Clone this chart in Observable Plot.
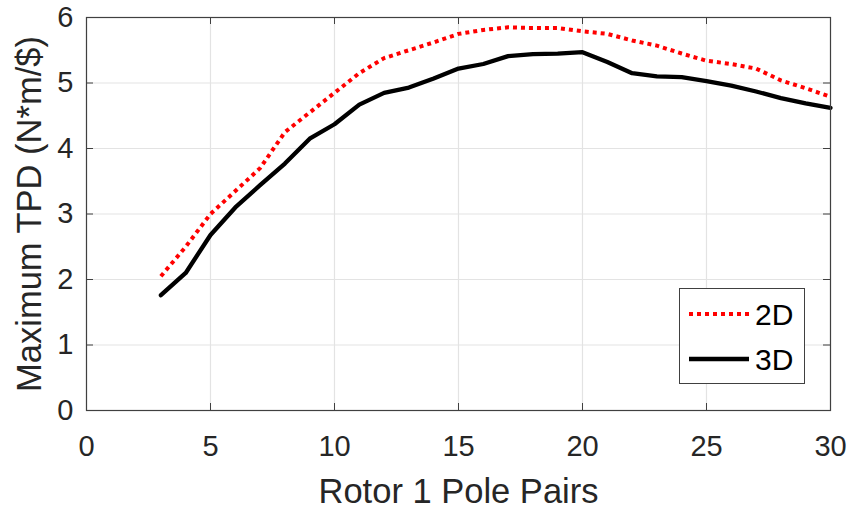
<!DOCTYPE html>
<html>
<head>
<meta charset="utf-8">
<script src="https://cdn.jsdelivr.net/npm/d3@7"></script>
<script src="https://cdn.jsdelivr.net/npm/@observablehq/plot@0.6"></script>
<style>
  html, body { margin: 0; padding: 0; background: #fff; }
  #wrap { position: relative; width: 851px; height: 514px; font-family: "Liberation Sans", Arial, Helvetica, sans-serif; }
  #legend { position: absolute; left: 679px; top: 288px; width: 124px; height: 94px; border: 1px solid #404040; background: #fff; box-sizing: content-box; }
  #legend svg { position: absolute; left: 0; top: 0; }
</style>
</head>
<body>
<div id="wrap"></div>
<script>
const polePairs = [3,4,5,6,7,8,9,10,11,12,13,14,15,16,17,18,19,20,21,22,23,24,25,26,27,28,29,30];
const tpd2D = [2.05,2.5,3.0,3.35,3.7,4.25,4.55,4.85,5.15,5.38,5.5,5.62,5.75,5.81,5.85,5.84,5.84,5.79,5.75,5.65,5.57,5.45,5.34,5.29,5.22,5.04,4.92,4.79];
const tpd3D = [1.76,2.1,2.68,3.1,3.44,3.77,4.15,4.37,4.67,4.85,4.93,5.07,5.22,5.29,5.41,5.44,5.45,5.47,5.32,5.15,5.1,5.09,5.03,4.96,4.87,4.77,4.69,4.62];
const xTicks = [0,5,10,15,20,25,30];
const yTicks = [0,1,2,3,4,5,6];
const seriesNames = ["2D", "3D"];
const xLabel = "Rotor 1 Pole Pairs";
const yLabel = "Maximum TPD (N*m/$)";

const rows2D = polePairs.map((p, i) => ({x: p, y: tpd2D[i]}));
const rows3D = polePairs.map((p, i) => ({x: p, y: tpd3D[i]}));

const W = 851, H = 514;
const mL = 86, mR = 21, mT = 17, mB = 104;
const innerH = H - mT - mB, innerW = W - mL - mR;
const tickLen = 7;
const axisColor = "#404040";
const textColor = "#262626";

const chart = Plot.plot({
  width: W, height: H,
  marginLeft: mL, marginRight: mR, marginTop: mT, marginBottom: mB,
  style: {fontFamily: '"Liberation Sans", Arial, Helvetica, sans-serif', color: textColor, background: "white"},
  x: {domain: [0, 30]},
  y: {domain: [0, 6]},
  marks: [
    Plot.gridX(xTicks, {stroke: "#e3e3e3", strokeOpacity: 1, strokeWidth: 1.2}),
    Plot.gridY(yTicks, {stroke: "#e3e3e3", strokeOpacity: 1, strokeWidth: 1.2}),
    Plot.tickX(xTicks, {x: d => d, stroke: axisColor, insetTop: innerH - tickLen}),
    Plot.tickX(xTicks, {x: d => d, stroke: axisColor, insetBottom: innerH - tickLen}),
    Plot.tickY(yTicks, {y: d => d, stroke: axisColor, insetRight: innerW - tickLen}),
    Plot.tickY(yTicks, {y: d => d, stroke: axisColor, insetLeft: innerW - tickLen}),
    Plot.axisX(xTicks, {tickSize: 0, tickPadding: 25, fontSize: 29, fill: textColor, tickFormat: d => String(d),
      label: xLabel, labelAnchor: "center", labelArrow: "none", labelOffset: 92}),
    Plot.axisY(yTicks, {tickSize: 0, tickPadding: 13, fontSize: 29, fill: textColor, tickFormat: d => String(d),
      label: yLabel, labelAnchor: "center", labelArrow: "none", labelOffset: 70}),
    Plot.line(rows2D, {x: "x", y: "y", stroke: "#ff0000", strokeWidth: 4, strokeDasharray: "4 4", strokeLinecap: "butt"}),
    Plot.line(rows3D, {x: "x", y: "y", stroke: "#000000", strokeWidth: 4.3}),
    Plot.frame({stroke: axisColor, strokeWidth: 1.2})
  ]
});

chart.querySelectorAll('g[aria-label="x-axis label"] text, g[aria-label="y-axis label"] text').forEach(t => {
  t.setAttribute("font-size", "34.5");
});

const wrap = document.getElementById("wrap");
wrap.appendChild(chart);

// Legend
const legend = document.createElement("div");
legend.id = "legend";
const ns = "http://www.w3.org/2000/svg";
const lsvg = document.createElementNS(ns, "svg");
lsvg.setAttribute("width", 124);
lsvg.setAttribute("height", 94);
const styles = [
  {stroke: "#ff0000", dash: "4 4", w: 4},
  {stroke: "#000000", dash: null, w: 4.3}
];
seriesNames.forEach((name, i) => {
  const cy = 25 + i * 45;
  const ln = document.createElementNS(ns, "line");
  ln.setAttribute("x1", 9); ln.setAttribute("x2", 69);
  ln.setAttribute("y1", cy); ln.setAttribute("y2", cy);
  ln.setAttribute("stroke", styles[i].stroke);
  ln.setAttribute("stroke-width", styles[i].w);
  if (styles[i].dash) ln.setAttribute("stroke-dasharray", styles[i].dash);
  lsvg.appendChild(ln);
  const tx = document.createElementNS(ns, "text");
  tx.setAttribute("x", 75); tx.setAttribute("y", cy + 11);
  tx.setAttribute("font-size", 30);
  tx.setAttribute("fill", "#000");
  tx.setAttribute("font-family", '"Liberation Sans", Arial, sans-serif');
  tx.textContent = name;
  lsvg.appendChild(tx);
});
legend.appendChild(lsvg);
wrap.appendChild(legend);
</script>
</body>
</html>
